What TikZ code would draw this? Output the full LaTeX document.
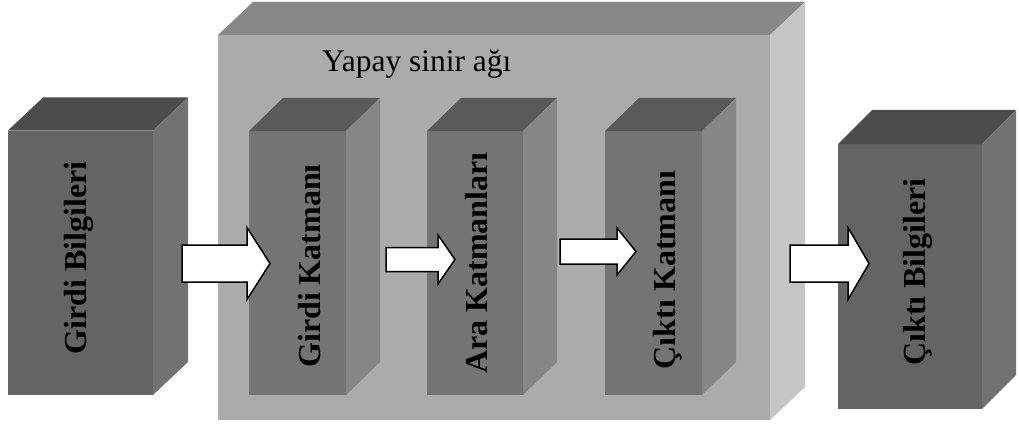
\documentclass[tikz,border=0pt]{standalone}
\usepackage{fontspec}
\setmainfont{Liberation Serif}
\usetikzlibrary{fit}

% face shades of the three kinds of blocks
\definecolor{netfront}{HTML}{ABABAB}
\definecolor{nettop}{HTML}{888888}
\definecolor{netside}{HTML}{C5C5C5}
\definecolor{layerfront}{HTML}{747474}
\definecolor{layertop}{HTML}{5A5A5A}
\definecolor{layerside}{HTML}{868686}
\definecolor{iofront}{HTML}{646464}
\definecolor{iotop}{HTML}{4C4C4C}
\definecolor{ioside}{HTML}{727272}

% #1 name, (#2,#3)-(#4,#5) front face, (#6,#7) depth, #8 palette
\newcommand\cuboid[8]{%
  \node[fit={(#2,#3) (#4,#5)}, inner sep=0pt, outer sep=0pt, fill=#8front] (#1) {};
  \fill[#8top] (#1.north west) -- ++(#6,-#7) -- ([shift={(#6,-#7)}]#1.north east) -- (#1.north east) -- cycle;
  \fill[#8side] (#1.north east) -- ++(#6,-#7) -- ([shift={(#6,-#7)}]#1.south east) -- (#1.south east) -- cycle;
}

% #1 tail x, #2 mid y, #3 head base x, #4 tip x, #5 shaft half height, #6 head half height
\newcommand\blockarrow[6]{%
  \draw[barrow] (#1,{#2-#5}) -- (#3,{#2-#5}) -- (#3,{#2-#6}) -- (#4,#2)
    -- (#3,{#2+#6}) -- (#3,{#2+#5}) -- (#1,{#2+#5}) -- cycle;
}

\tikzset{
  barrow/.style={draw=black, fill=white, line width=1.5pt, line join=miter},
  vlabel/.style={rotate=90, anchor=base, inner sep=0pt,
    font=\fontsize{32}{38}\selectfont\bfseries},
}

\begin{document}
\begin{tikzpicture}[x=1pt, y=-1pt]
  \useasboundingbox (0,0) rectangle (1019,425);

  % the network block and its three layers
  \cuboid{net}{218}{35}{770}{420}{35}{33}{net}
  \cuboid{inlayer}{249}{131}{346}{395}{34}{33}{layer}
  \cuboid{hidlayer}{427}{131}{523}{395}{34}{33}{layer}
  \cuboid{outlayer}{605}{131}{702}{395}{34}{33}{layer}

  % input and output data blocks
  \cuboid{indata}{8}{130.5}{153}{395}{35}{33}{io}
  \cuboid{outdata}{838}{144}{982}{409}{34}{34}{io}

  \node[anchor=base west, inner sep=0pt, font=\fontsize{31.5}{36}\selectfont]
    (title) at (322,72) {Yapay sinir ağı};

  \node[vlabel] (indatatext)  at (86,258)  {Girdi Bilgileri};
  \node[vlabel] (inlayertext) at (320,266) {Girdi Katmanı};
  \node[vlabel] (hidlayertext) at (487,263) {Ara Katmanları};
  \node[vlabel] (outlayertext) at (675,270) {Çıktı Katmanı};
  \node[vlabel] (outdatatext) at (925,272) {Çıktı Bilgileri};

  % flow arrows
  \blockarrow{182}{263.5}{247}{270}{18.5}{36}
  \blockarrow{386}{259.5}{438}{455}{12}{24.5}
  \blockarrow{560}{251.5}{617}{636}{12.5}{23.5}
  \blockarrow{790}{263.5}{848}{869}{18.5}{36}
\end{tikzpicture}
\end{document}
